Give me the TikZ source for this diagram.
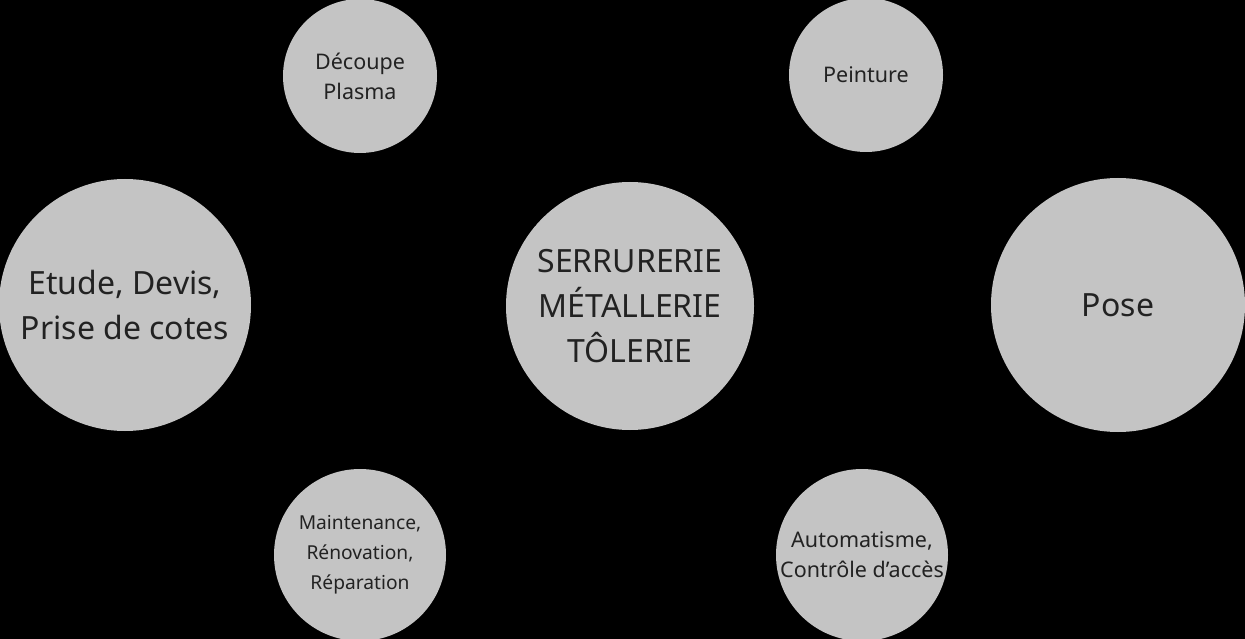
\documentclass[tikz,border=0pt]{standalone}
\usepackage{fontspec}
\setmainfont{Noto Sans}
\usetikzlibrary{arrows.meta,positioning}
\definecolor{bulle}{HTML}{C4C4C4}
\definecolor{texte}{HTML}{222222}

\begin{document}
\begin{tikzpicture}[>=Latex, x=1pt, y=-1pt,
  big/.style={circle, fill=bulle, text=texte, align=center, inner sep=0pt, font=\fontsize{32}{45}\selectfont},
  small/.style={circle, fill=bulle, text=texte, align=center, inner sep=0pt, font=\fontsize{21.5}{30}\selectfont},
  link/.style={->, draw=black, line width=1pt}]
  \fill[black] (0,0) rectangle (1245,639);
  \useasboundingbox (0,0) rectangle (1245,639);
  \node[big, minimum size=248pt]   (metal)  at (630,306)  {SERRURERIE\\MÉTALLERIE\\TÔLERIE};
  \node[big, minimum size=252pt]   (etude)  at (125,305)  {Etude, Devis,\\Prise de cotes};
  \node[big, minimum size=254pt]   (pose)   at (1118,305) {Pose};
  \node[small, minimum size=154pt] (plasma) at (360,76)   {Découpe\\Plasma};
  \node[small, minimum size=154pt] (peint)  at (866,75)   {Peinture};
  \node[small, minimum size=172pt, font=\fontsize{19.2}{30}\selectfont] (maint) at (360,555) {Maintenance,\\Rénovation,\\Réparation};
  \node[small, minimum size=172pt] (auto)   at (862,555)  {Automatisme,\\Contrôle d’accès};
  \draw[link] (metal) -- (etude);
  \draw[link] (metal) -- (plasma);
  \draw[link] (peint) -- (metal);
  \draw[link] (maint) -- (metal);
  \draw[link] (auto) -- (pose);
  \draw[link] (pose) to[bend left=10] (auto);
\end{tikzpicture}
\end{document}
